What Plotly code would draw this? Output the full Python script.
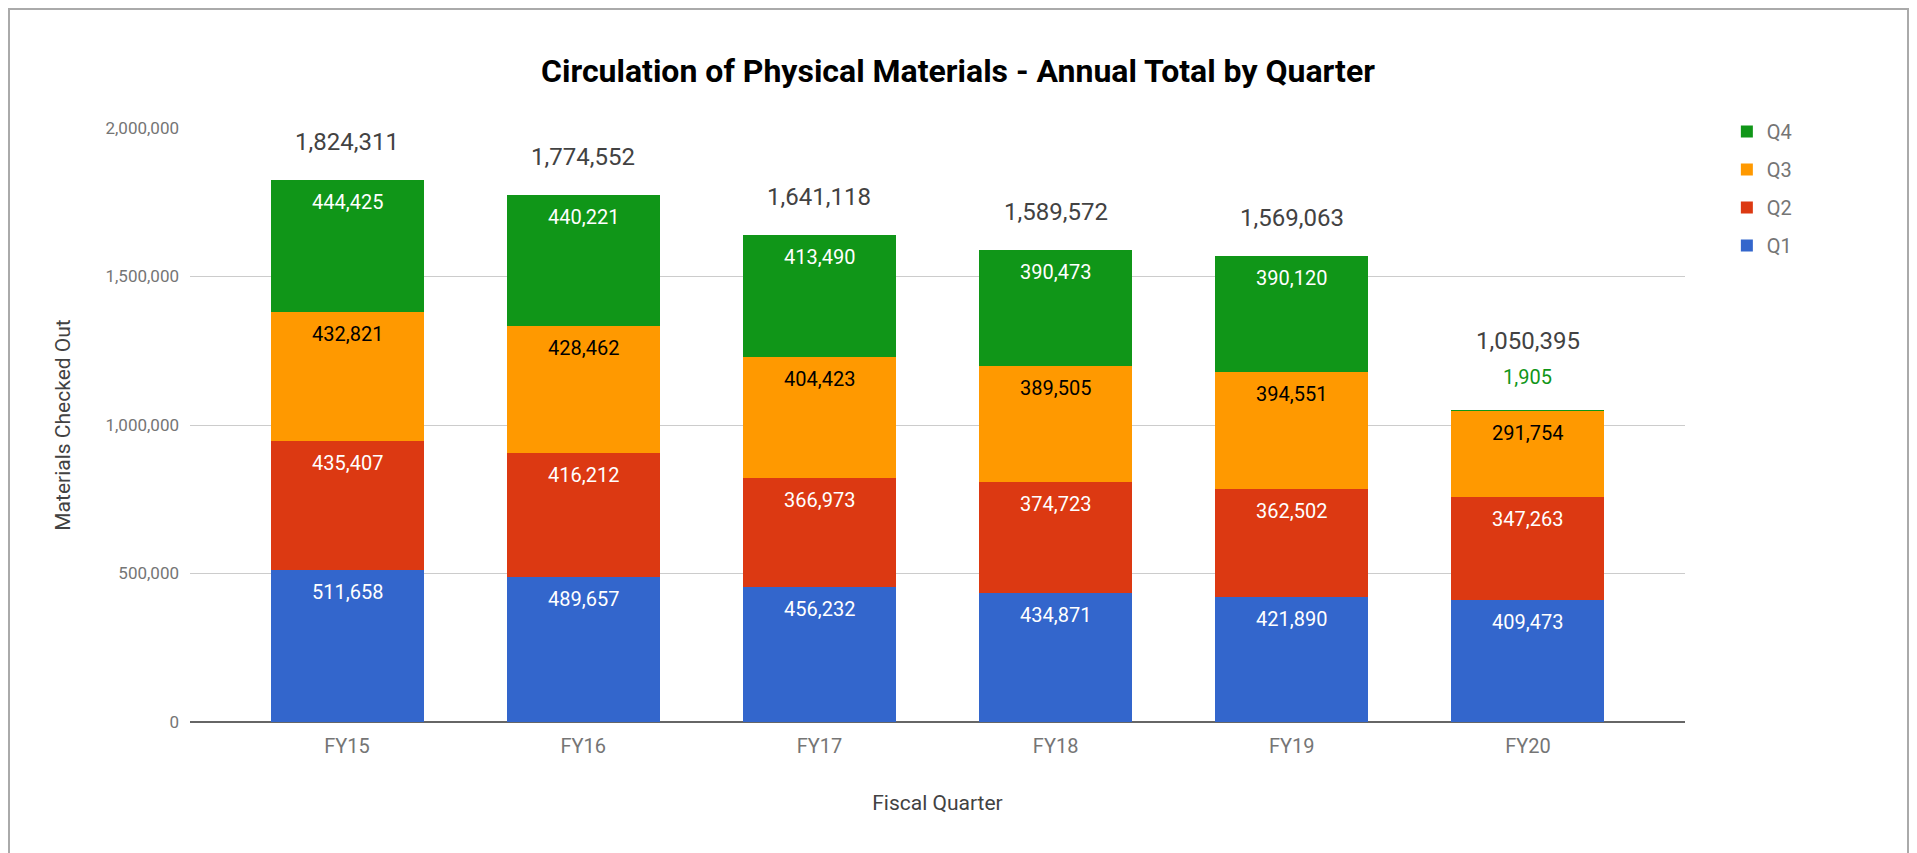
import plotly.graph_objects as go

years = ["FY15", "FY16", "FY17", "FY18", "FY19", "FY20"]
q1 = [511658, 489657, 456232, 434871, 421890, 409473]
q2 = [435407, 416212, 366973, 374723, 362502, 347263]
q3 = [432821, 428462, 404423, 389505, 394551, 291754]
q4 = [444425, 440221, 413490, 390473, 390120, 1905]

quarters = ["Q1", "Q2", "Q3", "Q4"]
series = [q1, q2, q3, q4]
colors = ["#3366cc", "#dc3912", "#ff9900", "#109618"]
label_colors = ["#ffffff", "#ffffff", "#000000", "#ffffff"]

# page body adds an 8px offset, so the figure is sized/margined to compensate
W, H = 1909, 845
L, R, T, B = 182, 232, 120, 131
plot_w = W - L - R
plot_h = H - T - B
y_max = 2000000

fig = go.Figure()
for k, (name, vals, col) in enumerate(zip(quarters, series, colors)):
    fig.add_trace(go.Bar(x=years, y=vals, name=name, legendgroup=name,
                         legendrank=len(quarters) - k,
                         marker=dict(color=col, line=dict(width=0)),
                         hoverinfo="x+y+name"))

# segment labels near top of each segment, totals above stack
annotations = []
bottoms = [0] * len(years)
extra = [0] * len(years)
for name, vals, col, lc in zip(quarters, series, colors, label_colors):
    for i, v in enumerate(vals):
        top = bottoms[i] + v
        seg_px = v / y_max * plot_h
        if seg_px > 35:
            annotations.append(dict(x=years[i], y=top, text=f"{v:,}", showarrow=False,
                                    yshift=-22, font=dict(size=20, color=lc, family="Roboto")))
        else:
            annotations.append(dict(x=years[i], y=top, text=f"{v:,}", showarrow=False,
                                    yshift=33, font=dict(size=20, color=col, family="Roboto")))
            extra[i] = 31
        bottoms[i] = top

for i, tot in enumerate(bottoms):
    annotations.append(dict(x=years[i], y=tot, text=f"{tot:,}", showarrow=False,
                            yshift=38 + extra[i], font=dict(size=24, color="#424242", family="Roboto")))

fig.update_layout(
    width=W, height=H,
    barmode="stack",
    bargap=0.352,
    margin=dict(l=L, r=R, t=T, b=B),
    paper_bgcolor="white",
    plot_bgcolor="white",
    font=dict(family="Roboto", color="#757575"),
    title=dict(text="<b>Circulation of Physical Materials - Annual Total by Quarter</b>",
               x=(958 - 8) / W, xref="container", xanchor="center",
               y=1 - 63 / H, yref="container", yanchor="middle",
               font=dict(size=32, color="#000000", family="Roboto")),
    xaxis=dict(range=[-0.665, 5.665], showgrid=False, zeroline=False, showline=False,
               ticks="", ticklabelstandoff=10, tickfont=dict(size=20, color="#757575"),
               title=dict(text="Fiscal Quarter", font=dict(size=21, color="#424242"), standoff=38)),
    yaxis=dict(range=[0, y_max], dtick=500000, tickformat=",d", showgrid=True,
               gridcolor="#cccccc", gridwidth=1, zeroline=True, zerolinecolor="#666666",
               zerolinewidth=1.5, showline=False, ticks="", ticklabelstandoff=10,
               tickfont=dict(size=17, color="#757575"),
               title=dict(text="Materials Checked Out", font=dict(size=21, color="#424242"), standoff=29)),
    legend=dict(x=1.028, y=1.027, xanchor="left", yanchor="top", traceorder="grouped",
                tracegroupgap=9, font=dict(size=20, color="#757575"), bgcolor="rgba(0,0,0,0)"),
    annotations=annotations,
    shapes=[dict(type="rect", xref="paper", yref="paper",
                 x0=(1 - L) / plot_w, x1=(1900 - L) / plot_w,
                 y0=-(870 - (H - B)) / plot_h, y1=((H - B) - 1) / plot_h,
                 line=dict(color="#aaaaaa", width=2), layer="below")],
)

fig.write_html("out.html")
